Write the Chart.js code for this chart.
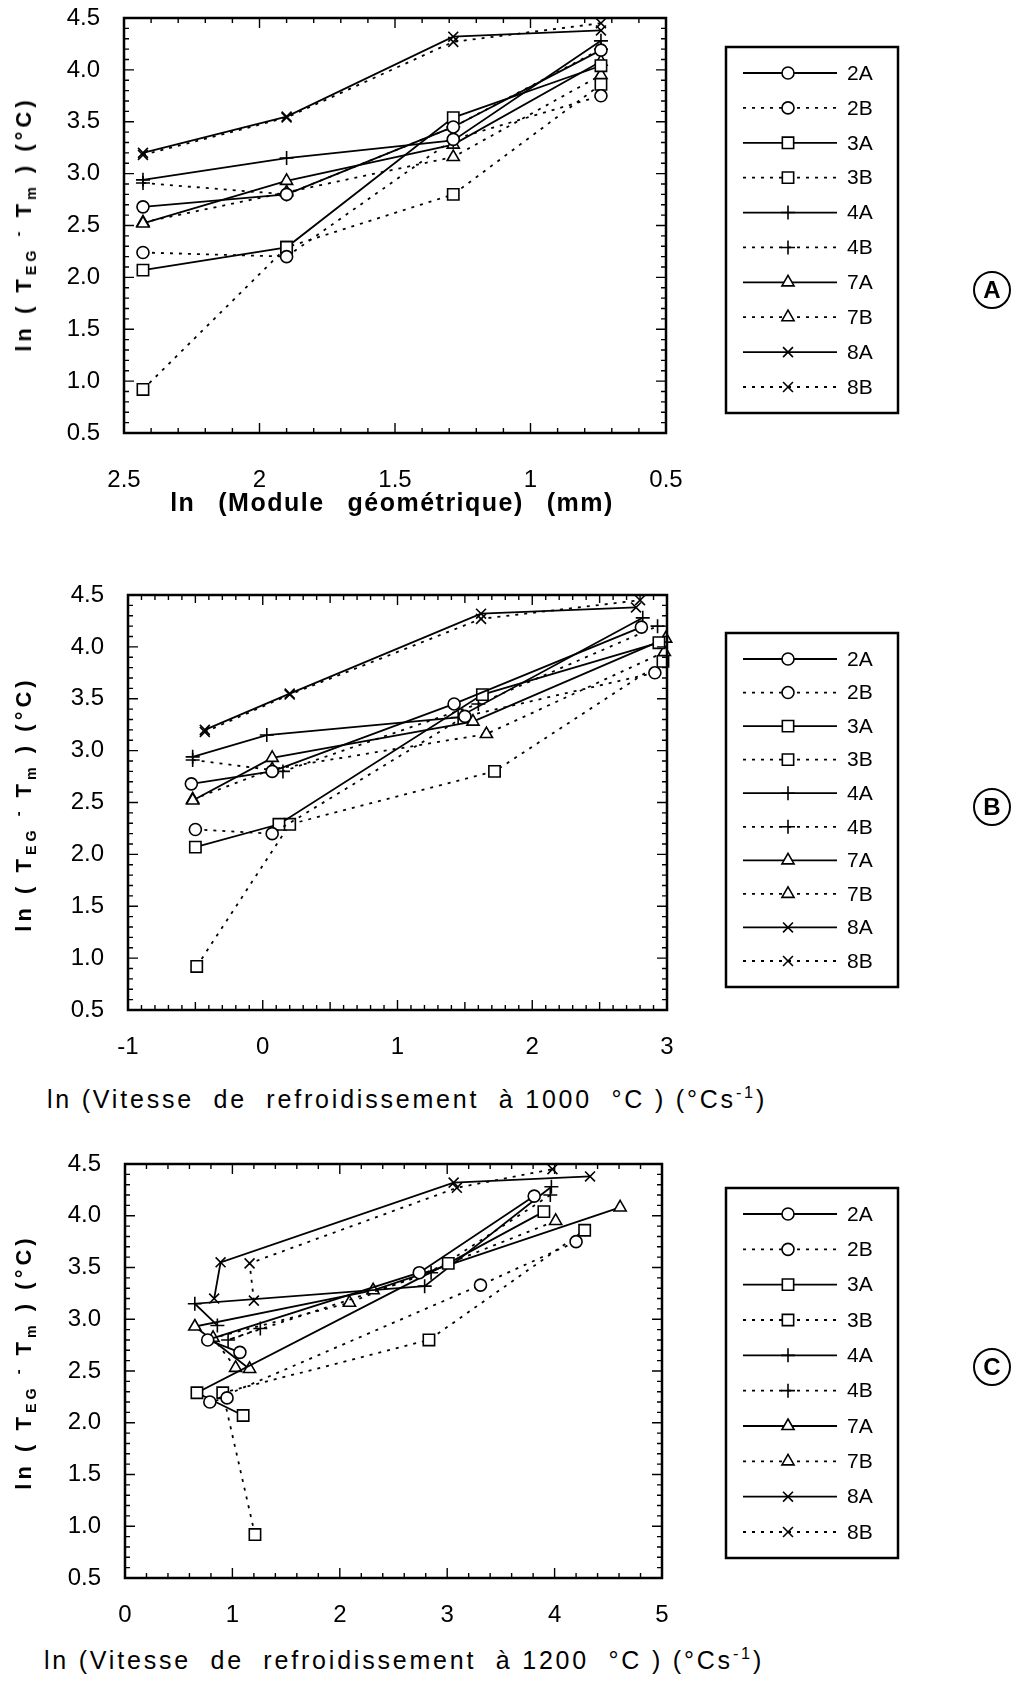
<!DOCTYPE html>
<html lang="fr">
<head>
<meta charset="utf-8">
<title>ln (TEG - Tm)</title>
<script src="https://cdn.jsdelivr.net/npm/chart.js@4.4.1/dist/chart.umd.min.js"></script>
<style>
    html, body { margin: 0; padding: 0; background: #fff; }
    body {
        width: 1021px; height: 1682px; position: relative; overflow: hidden;
        font-family: "Liberation Sans", Arial, sans-serif; color: #000;
    }
    canvas { position: absolute; left: 0; }
    .x-title, .y-title, .tag { position: absolute; white-space: pre; }
    .x-title { transform: translate(-50%, -50%); font-size: 25px; letter-spacing: 2.8px; }
    .x-title.bold { font-weight: bold; font-size: 25px; letter-spacing: 1.5px; word-spacing: 3px; }
    .y-title {
        transform: translate(-50%, -50%) rotate(-90deg);
        font-size: 22px; font-weight: bold; letter-spacing: 4px;
    }
    .tag {
        transform: translate(-50%, -50%); width: 34px; height: 34px; border: 2px solid #000;
        border-radius: 50%; font-size: 24px; font-weight: bold; line-height: 34px; text-align: center;
    }
    sub, sup { font-size: 65%; line-height: 0; }
</style>
</head>
<body>
<canvas id="chartA" width="1021" height="540" style="top:0px"></canvas>
<canvas id="chartB" width="1021" height="520" style="top:560px"></canvas>
<canvas id="chartC" width="1021" height="510" style="top:1130px"></canvas>

<div class="y-title" style="left:24px; top:224px">ln ( T<sub>EG</sub> <sup>-</sup> T<sub>m</sub> ) (°C)</div>
<div class="y-title" style="left:24px; top:804px">ln ( T<sub>EG</sub> <sup>-</sup> T<sub>m</sub> ) (°C)</div>
<div class="y-title" style="left:24px; top:1362px">ln ( T<sub>EG</sub> <sup>-</sup> T<sub>m</sub> ) (°C)</div>

<div class="x-title bold" style="left:392px; top:502px">ln  (Module  géométrique)  (mm)</div>
<div class="x-title" style="left:407px; top:1099px">ln (Vitesse  de  refroidissement  à 1000  °C ) (°Cs<sup>-1</sup>)</div>
<div class="x-title" style="left:404px; top:1660px">ln (Vitesse  de  refroidissement  à 1200  °C ) (°Cs<sup>-1</sup>)</div>

<div class="tag" style="left:992px; top:290px">A</div>
<div class="tag" style="left:992px; top:807px">B</div>
<div class="tag" style="left:992px; top:1367px">C</div>

<script>
// Series names, in legend order
const seriesLabels = ['2A', '2B', '3A', '3B', '4A', '4B', '7A', '7B', '8A', '8B'];

// ln(TEG - Tm) for each series (same four castings in every panel)
const y2A = [2.68, 2.80, 3.45, 4.19];
const y2B = [2.24, 2.20, 3.33, 3.75];
const y3A = [2.07, 2.29, 3.54, 4.04];
const y3B = [0.92, 2.29, 2.80, 3.86];
const y4A = [2.94, 3.15, 3.32, 4.28];
const y4B = [2.91, 2.80, 3.45, 4.20];
const y7A = [2.52, 2.93, 3.28, 4.08];
const y7B = [2.53, 2.82, 3.16, 3.95];
const y8A = [3.20, 3.55, 4.32, 4.38];
const y8B = [3.18, 3.54, 4.27, 4.45];

// Panel A: ln(module géométrique), identical for every series
const xModule = [2.43, 1.90, 1.285, 0.74];

// Panel B: ln(vitesse de refroidissement à 1000 °C)
const x1000_2A = [-0.53, 0.07, 1.42, 2.81];
const x1000_2B = [-0.50, 0.07, 1.50, 2.91];
const x1000_3A = [-0.50, 0.12, 1.63, 2.94];
const x1000_3B = [-0.49, 0.20, 1.72, 2.97];
const x1000_4A = [-0.52, 0.03, 1.45, 2.82];
const x1000_4B = [-0.52, 0.15, 1.60, 2.93];
const x1000_7A = [-0.52, 0.07, 1.56, 2.99];
const x1000_7B = [-0.52, 0.07, 1.66, 2.98];
const x1000_8A = [-0.43, 0.20, 1.62, 2.77];
const x1000_8B = [-0.43, 0.20, 1.62, 2.80];

// Panel C: ln(vitesse de refroidissement à 1200 °C)
const x1200_2A = [1.07, 0.77, 2.74, 3.81];
const x1200_2B = [0.95, 0.79, 3.31, 4.20];
const x1200_3A = [1.10, 0.67, 3.01, 3.90];
const x1200_3B = [1.21, 0.91, 2.83, 4.28];
const x1200_4A = [0.86, 0.65, 2.79, 3.97];
const x1200_4B = [1.26, 0.96, 2.85, 3.96];
const x1200_7A = [1.16, 0.65, 2.31, 4.61];
const x1200_7B = [1.03, 0.82, 2.09, 4.01];
const x1200_8A = [0.83, 0.89, 3.06, 4.33];
const x1200_8B = [1.20, 1.16, 3.09, 3.98];

// Tick labels
const yTicks = [0.5, 1.0, 1.5, 2.0, 2.5, 3.0, 3.5, 4.0, 4.5];
const xTicksA = [2.5, 2, 1.5, 1, 0.5];
const xTicksB = [-1, 0, 1, 2, 3];
const xTicksC = [0, 1, 2, 3, 4, 5];

const yValues = [y2A, y2B, y3A, y3B, y4A, y4B, y7A, y7B, y8A, y8B];
const xPanelB = [x1000_2A, x1000_2B, x1000_3A, x1000_3B, x1000_4A, x1000_4B, x1000_7A, x1000_7B, x1000_8A, x1000_8B];
const xPanelC = [x1200_2A, x1200_2B, x1200_3A, x1200_3B, x1200_4A, x1200_4B, x1200_7A, x1200_7B, x1200_8A, x1200_8B];

// Marker and line look of each series
const seriesStyles = {
    '2A': { marker: 'circle', radius: 6, dashed: false },
    '2B': { marker: 'circle', radius: 6, dashed: true },
    '3A': { marker: 'rect', radius: 8, dashed: false },
    '3B': { marker: 'rect', radius: 8, dashed: true },
    '4A': { marker: 'cross', radius: 7, dashed: false },
    '4B': { marker: 'cross', radius: 7, dashed: true },
    '7A': { marker: 'triangle', radius: 7, dashed: false },
    '7B': { marker: 'triangle', radius: 7, dashed: true },
    '8A': { marker: 'crossRot', radius: 7, dashed: false },
    '8B': { marker: 'crossRot', radius: 7, dashed: true }
};

const DASH = [3, 6];
const TICK_FONT = { family: '"Liberation Sans", Arial, sans-serif', size: 24 };

// Frame with inward minor/major ticks on all four sides
const frameTicksPlugin = {
    id: 'frameTicks',
    afterDatasetsDraw(chart, args, opts) {
        const { ctx, chartArea: a, scales } = chart;
        ctx.save();
        ctx.strokeStyle = '#000';
        ctx.lineWidth = 1.4;
        const steps = (min, max, step) => {
            const out = [];
            const n = Math.round((max - min) / step);
            for (let i = 0; i <= n; i++) out.push(+(min + i * step).toFixed(4));
            return out;
        };
        const isMultiple = (v, m) => m && Math.abs(v / m - Math.round(v / m)) < 1e-6;
        const len = (v, major, mid) => isMultiple(v, major) ? 10 : (isMultiple(v, mid) ? 8 : 5);

        ctx.beginPath();
        steps(scales.x.min, scales.x.max, opts.xMinor).forEach(v => {
            const px = scales.x.getPixelForValue(v);
            const l = len(v, opts.xMajor, opts.xMid);
            ctx.moveTo(px, a.bottom); ctx.lineTo(px, a.bottom - l);
            ctx.moveTo(px, a.top); ctx.lineTo(px, a.top + l);
        });
        steps(scales.y.min, scales.y.max, opts.yMinor).forEach(v => {
            const py = scales.y.getPixelForValue(v);
            const l = len(v, opts.yMajor, null);
            ctx.moveTo(a.left, py); ctx.lineTo(a.left + l, py);
            ctx.moveTo(a.right, py); ctx.lineTo(a.right - l, py);
        });
        ctx.stroke();

        ctx.lineWidth = 2.5;
        ctx.strokeRect(a.left, a.top, a.right - a.left, a.bottom - a.top);
        ctx.restore();
    }
};

// Boxed legend with a line sample and marker for every series
const boxLegendPlugin = {
    id: 'boxLegend',
    afterDraw(chart, args, opts) {
        const { ctx } = chart;
        const box = opts.box;
        ctx.save();
        ctx.strokeStyle = '#000';
        ctx.lineWidth = 2.5;
        ctx.strokeRect(box.left, box.top, box.right - box.left, box.bottom - box.top);

        const datasets = chart.data.datasets;
        const rowGap = (box.bottom - box.top - 2 * opts.edge) / (datasets.length - 1);
        ctx.font = opts.fontSize + 'px ' + TICK_FONT.family;
        ctx.textBaseline = 'middle';
        ctx.textAlign = 'left';

        datasets.forEach((ds, i) => {
            const y = box.top + opts.edge + i * rowGap;
            ctx.lineWidth = ds.borderWidth;
            ctx.setLineDash(ds.borderDash);
            ctx.beginPath();
            ctx.moveTo(opts.lineFrom, y);
            ctx.lineTo(opts.lineTo, y);
            ctx.stroke();
            ctx.setLineDash([]);

            ctx.fillStyle = '#fff';
            ctx.lineWidth = ds.pointBorderWidth;
            Chart.helpers.drawPoint(ctx, {
                pointStyle: ds.pointStyle,
                radius: ds.pointRadius,
                rotation: 0,
                borderWidth: ds.pointBorderWidth
            }, opts.markerX, y);
            ctx.fillStyle = '#000';
            ctx.fillText(ds.label, opts.textX, y + 1);
        });
        ctx.restore();
    }
};

const ChartBuilder = {
    // Draw the three panels
    init() {
        this.drawPanel({
            canvasId: 'chartA', canvasHeight: 540,
            area: { left: 124, right: 666, top: 18, bottom: 433 },
            xMin: 0.5, xMax: 2.5, reverse: true, xTicks: xTicksA,
            xLabelPad: 33, xMinor: 0.1, xMajor: 0.5, xMid: null,
            xColumns: seriesLabels.map(() => xModule),
            legendBox: { left: 726, right: 898, top: 47, bottom: 413 }
        });
        this.drawPanel({
            canvasId: 'chartB', canvasHeight: 520,
            area: { left: 128, right: 667, top: 35, bottom: 450 },
            xMin: -1, xMax: 3, reverse: false, xTicks: xTicksB,
            xLabelPad: 23, xMinor: 0.1, xMajor: 1, xMid: 0.5,
            xColumns: xPanelB,
            legendBox: { left: 726, right: 898, top: 73, bottom: 427 }
        });
        this.drawPanel({
            canvasId: 'chartC', canvasHeight: 510,
            area: { left: 125, right: 662, top: 34, bottom: 448 },
            xMin: 0, xMax: 5, reverse: false, xTicks: xTicksC,
            xLabelPad: 23, xMinor: 0.2, xMajor: 1, xMid: null,
            xColumns: xPanelC,
            legendBox: { left: 726, right: 898, top: 58, bottom: 428 }
        });
    },

    // One Chart.js line dataset per series
    buildDatasets(xColumns) {
        return seriesLabels.map((name, i) => {
            const st = seriesStyles[name];
            return {
                label: name,
                data: xColumns[i].map((x, k) => ({ x: x, y: yValues[i][k] })),
                borderColor: '#000',
                borderWidth: 1.8,
                borderDash: st.dashed ? DASH : [],
                pointStyle: st.marker,
                pointRadius: st.radius,
                pointBackgroundColor: '#fff',
                pointBorderColor: '#000',
                pointBorderWidth: 1.6,
                tension: 0,
                fill: false,
                clip: false
            };
        });
    },

    // Build a panel with a fixed plot area
    drawPanel(p) {
        const canvas = document.getElementById(p.canvasId);
        const a = p.area;

        new Chart(canvas, {
            type: 'line',
            data: { datasets: this.buildDatasets(p.xColumns) },
            options: {
                responsive: false,
                animation: false,
                devicePixelRatio: 1,
                layout: { padding: { top: a.top, left: 0, right: canvas.width - a.right, bottom: 0 } },
                plugins: {
                    legend: { display: false },
                    tooltip: { enabled: false },
                    frameTicks: { xMinor: p.xMinor, xMajor: p.xMajor, xMid: p.xMid, yMinor: 0.1, yMajor: 0.5 },
                    boxLegend: {
                        box: p.legendBox, edge: 26, fontSize: 21,
                        lineFrom: p.legendBox.left + 17, lineTo: p.legendBox.left + 111,
                        markerX: p.legendBox.left + 62, textX: p.legendBox.left + 121
                    }
                },
                scales: {
                    x: {
                        type: 'linear',
                        min: p.xMin, max: p.xMax, reverse: p.reverse,
                        grid: { display: false, drawTicks: false, tickLength: 0 },
                        border: { display: false },
                        ticks: {
                            color: '#000', font: TICK_FONT, padding: p.xLabelPad,
                            autoSkip: false, maxRotation: 0,
                            callback: v => String(v)
                        },
                        afterBuildTicks: s => { s.ticks = p.xTicks.map(v => ({ value: v })); },
                        afterFit: s => {
                            s.height = canvas.height - a.bottom;
                            s.paddingLeft = 0;
                            s.paddingRight = 0;
                        }
                    },
                    y: {
                        type: 'linear',
                        min: 0.5, max: 4.5,
                        grid: { display: false, drawTicks: false, tickLength: 0 },
                        border: { display: false },
                        ticks: {
                            color: '#000', font: TICK_FONT, padding: 24,
                            autoSkip: false,
                            callback: v => Number(v).toFixed(1)
                        },
                        afterBuildTicks: s => { s.ticks = yTicks.map(v => ({ value: v })); },
                        afterFit: s => {
                            s.width = a.left;
                            s.paddingTop = 0;
                            s.paddingBottom = 0;
                        }
                    }
                }
            },
            plugins: [frameTicksPlugin, boxLegendPlugin]
        });
    }
};

document.addEventListener('DOMContentLoaded', () => {
    ChartBuilder.init();
});
</script>
</body>
</html>
